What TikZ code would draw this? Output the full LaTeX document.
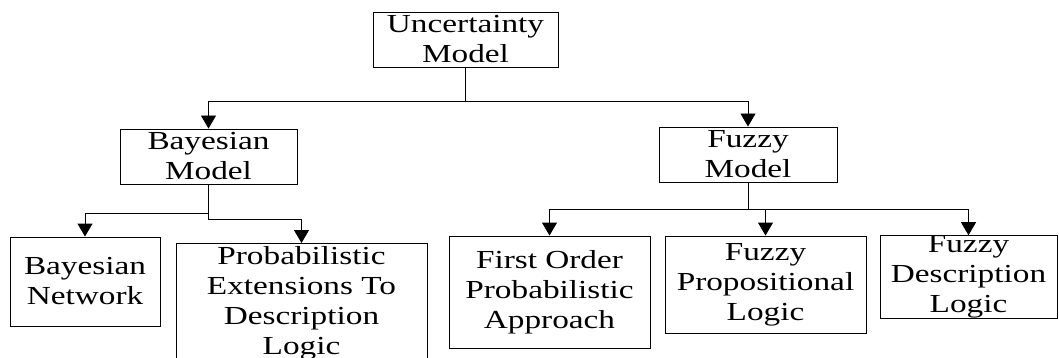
\documentclass[tikz,border=0pt]{standalone}
\usepackage{fontspec}
\setmainfont{Liberation Serif}[FakeStretch=1.28]
\usetikzlibrary{arrows.meta}

\newcommand*{\picw}{1059}
\newcommand*{\pich}{358}

\begin{document}
\begin{tikzpicture}
[
	box/.style={draw,line width=0.9pt,align=center,inner xsep=2pt,inner ysep=0pt,font=\fontsize{26}{30}\selectfont},
	arr/.style={line width=0.9pt,-{Triangle[width=15pt,length=13pt]}},
	x=1pt,
	y=-1pt
]

	\useasboundingbox (0,0) rectangle (\picw,\pich);

	% top level
	\node[box,minimum width=185,minimum height=55] at (465.5,39.5) (unc) {Uncertainty\\Model};

	% second level
	\node[box,minimum width=177,minimum height=55] at (208.5,156.5) (bay) {Bayesian\\Model};
	\node[box,minimum width=178,minimum height=55] at (748,154.5) (fuz) {Fuzzy\\Model};

	% leaves
	\node[box,minimum width=150,minimum height=89] at (85,281.5) (bnet) {Bayesian\\Network};
	\node[box,minimum width=251,inner ysep=3pt,anchor=north] at (301.5,243) (pedl) {Probabilistic\\Extensions To\\Description\\Logic};
	\node[box,minimum width=201,minimum height=112] at (549.5,292) (foa) {First Order\\Probabilistic\\Approach};
	\node[box,minimum width=201,minimum height=97] at (765.5,284.5) (fpl) {Fuzzy\\Propositional\\Logic};
	\node[box,minimum width=177,minimum height=82] at (968.5,277) (fdl) {Fuzzy\\Description\\Logic};

	% connectors
	\draw[arr] (unc.south) -- ++(0,34) -| (bay.north);
	\draw[arr] (unc.south) -- ++(0,34) -| (fuz.north);

	\draw[arr] (bay.south) -- ++(0,29) -| (bnet.north);
	\draw[arr] (bay.south) -- ++(0,35) -| (pedl.north);

	\draw[arr] (fuz.south) -- ++(0,27) -| (foa.north);
	\draw[arr] (fuz.south) -- ++(0,27) -| (fpl.north);
	\draw[arr] (fuz.south) -- ++(0,27) -| (fdl.north);

\end{tikzpicture}
\end{document}
